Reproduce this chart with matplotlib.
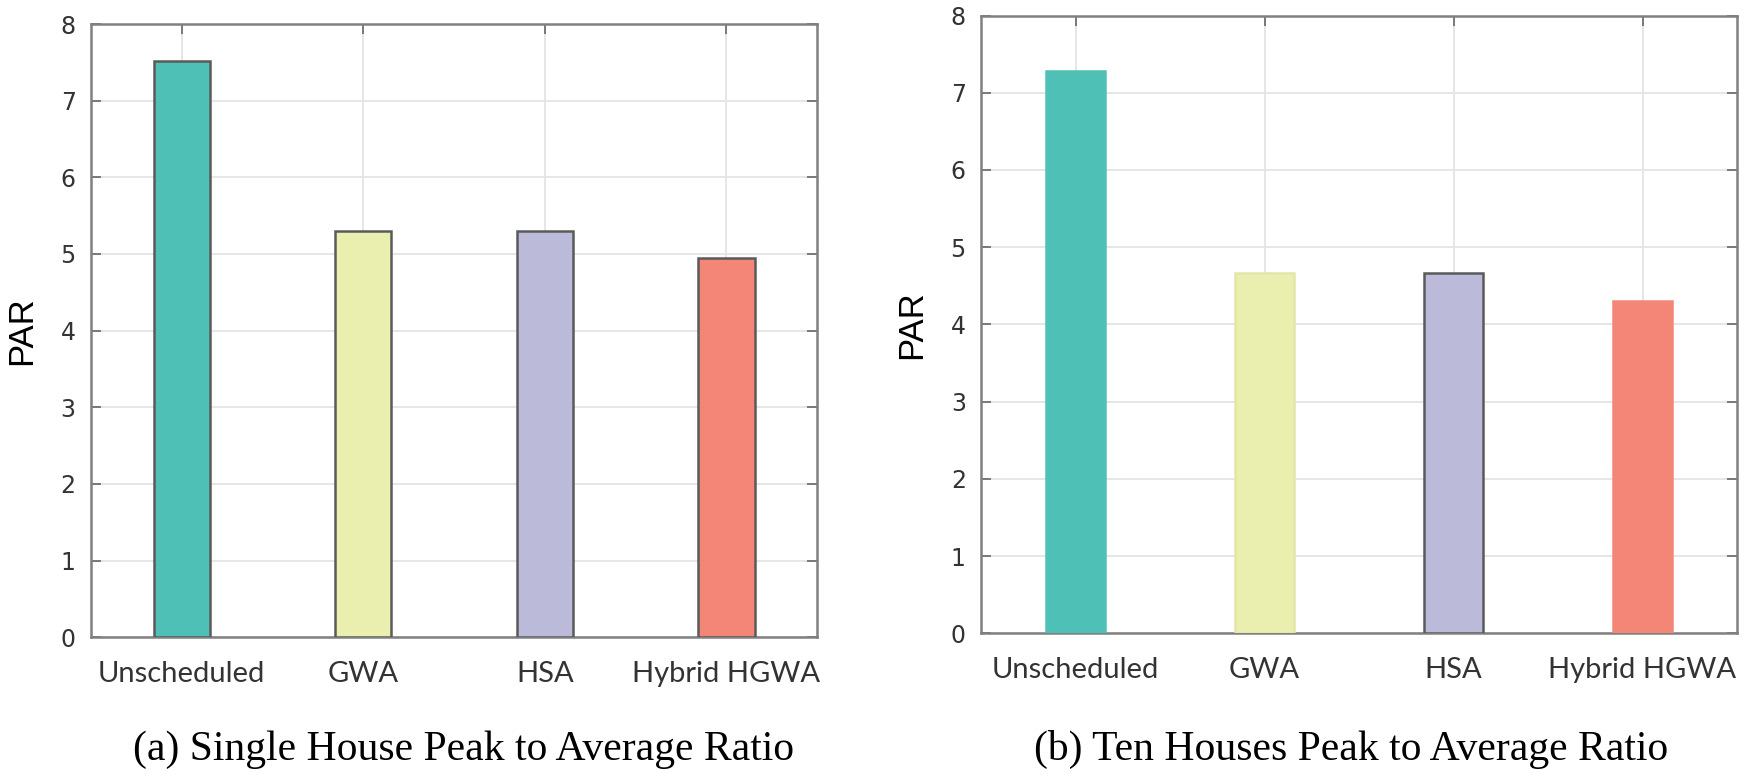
import numpy as np
import matplotlib.pyplot as plt

methods = ['Unscheduled', 'GWA', 'HSA', 'Hybrid HGWA']
par_single = [7.52, 5.30, 5.30, 4.95]
par_ten = [7.28, 4.67, 4.66, 4.30]
captions = ['(a) Single House Peak to Average Ratio', '(b) Ten Houses Peak to Average Ratio']

bar_colors = ['#4EC0B5', '#EAEFAF', '#BCBAD9', '#F38677']

fig = plt.figure(figsize=(17.5, 7.77), dpi=100)
ax1 = fig.add_axes([0.052, 0.180, 0.415, 0.789])
ax2 = fig.add_axes([0.5606, 0.185, 0.432, 0.795])

edges = [['#5a5a5a'] * 4, ['#4EC0B5', '#E3E6A8', '#5a5a5a', '#F38677']]

x = np.arange(1, len(methods) + 1)
for ax, vals, ec in zip([ax1, ax2], [par_single, par_ten], edges):
    ax.bar(x, vals, width=0.31, color=bar_colors, edgecolor=ec, linewidth=1.8, zorder=3)
    ax.set_xlim(0.5, 4.5)
    ax.set_ylim(0, 8)
    ax.set_yticks(range(0, 9))
    ax.set_xticks(x)
    ax.set_xticklabels(methods, fontsize=21, color='#333333', family='Lato')
    ax.grid(True, color='#e4e4e4', linewidth=1.3, zorder=0)
    ax.tick_params(axis='both', direction='in', top=True, right=True, length=7,
                   width=1.3, color='#707070')
    ax.tick_params(axis='x', pad=17)
    ax.tick_params(axis='y', labelsize=17, labelcolor='#333333', pad=11)
    for s in ax.spines.values():
        s.set_color('#808080')
        s.set_linewidth(1.8)
    ax.set_ylabel('PAR', fontsize=25, family='Liberation Sans', labelpad=16)

fig.text(0.265, 0.035, captions[0], ha='center', va='center', fontsize=30, family='Liberation Serif')
fig.text(0.772, 0.035, captions[1], ha='center', va='center', fontsize=30, family='Liberation Serif')

plt.savefig('out.png', dpi=100)
